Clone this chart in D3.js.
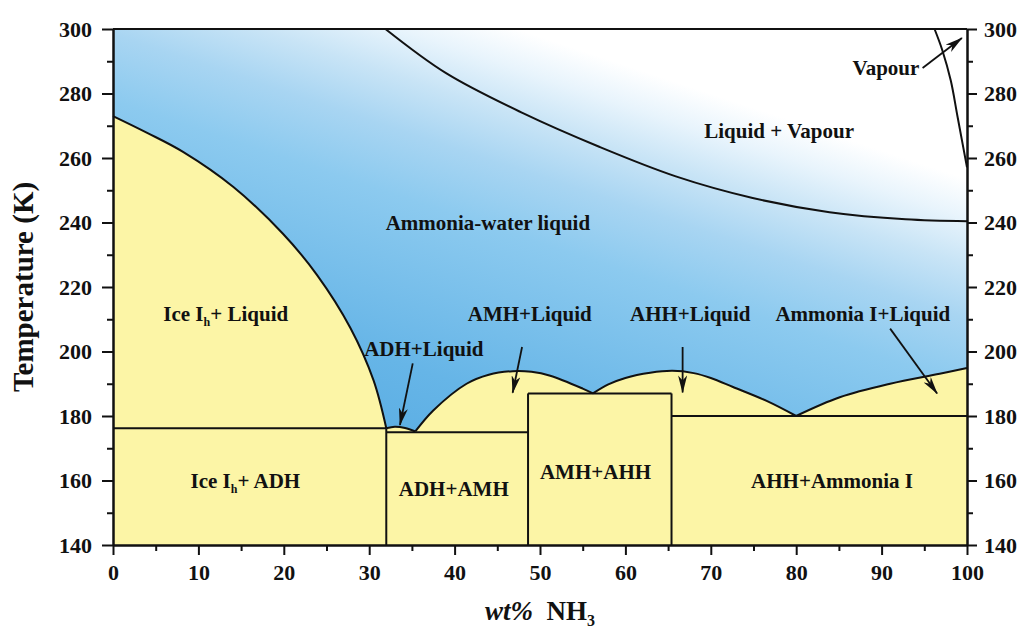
<!DOCTYPE html>
<html>
<head>
<meta charset="utf-8">
<script src="https://cdn.jsdelivr.net/npm/d3@7"></script>
<style>
  body { margin: 0; background: #fff; }
  text { font-family: "Liberation Serif", "Times New Roman", serif; font-weight: bold; fill: #111; }
</style>
</head>
<body>
<div id="chart"></div>
<script>
// liquidus branches, [wt% NH3, T (K)]
var iceLiquidus = [[0,273],[4,267.8],[8.2,261.9],[14.1,251],[19.9,236.5],[23.9,223.7],[27.8,207.3],[30.5,191.1],[32,176.2]];
var adhLiquidus = [[32,176.2],[33,176.7],[34.2,176.3],[35.4,175.2]];
var amhLiquidus = [[35.4,175.2],[37.5,181.7],[41.4,190],[44,192.8],[46.8,193.9],[49,193.7],[51.2,192.5],[55,188.5],[56.2,187]];
var ahhLiquidus = [[56.2,187],[58,189.8],[60,191.8],[62.9,193.4],[65.5,194],[68,193.3],[70,191.8],[72.6,189],[76.6,184.6],[80,180]];
var ammoniaLiquidus = [[80,180],[85.1,185.8],[91,190],[96.8,193.1],[100,194.9]];

// liquid + vapour boundaries
var dewCurve = [[31.9,300],[39,286.3],[48,273.9],[57,263.4],[65.9,254.3],[74.9,247.6],[83.9,243.2],[92.8,241],[100,240.4]];
var vapourCurve = [[96.2,300],[97.1,293.5],[98.1,284],[98.9,272.7],[100,257.1]];

// eutectic horizontals and compound verticals
var eutectics = [
  {x0: 0, x1: 32, t: 176.2},
  {x0: 32, x1: 48.6, t: 175},
  {x0: 48.6, x1: 65.4, t: 187},
  {x0: 65.4, x1: 100, t: 180}
];
var compounds = [
  {x: 32, t: 176.2},
  {x: 48.6, t: 187},
  {x: 65.4, t: 187}
];

// region labels
var labels = [
  {text: "Liquid + Vapour", x: 78, t: 268.6},
  {text: "Ammonia-water liquid", x: 43.9, t: 240.1},
  {text: "Ice I", sub: "h", after: "+ Liquid", x: 13.2, t: 211.8},
  {text: "Ice I", sub: "h", after: "+ ADH", x: 15.5, t: 160},
  {text: "ADH+AMH", x: 39.9, t: 157.5},
  {text: "AMH+AHH", x: 56.5, t: 162.7},
  {text: "AHH+Ammonia I", x: 84.2, t: 160},
  {text: "ADH+Liquid", x: 36.4, t: 200.9},
  {text: "AMH+Liquid", x: 48.8, t: 211.8},
  {text: "AHH+Liquid", x: 67.6, t: 211.8},
  {text: "Ammonia I+Liquid", x: 87.8, t: 211.8},
  {text: "Vapour", x: 90.5, t: 287.9}
];

// arrows from label to region
var arrows = [
  {x1: 35.1, t1: 196.3, x2: 33.6, t2: 177.2},
  {x1: 47.9, t1: 201.4, x2: 46.8, t2: 187.2},
  {x1: 66.7, t1: 201.4, x2: 66.7, t2: 187.3},
  {x1: 91.0, t1: 207.1, x2: 96.5, t2: 187.0},
  {x1: 94.8, t1: 287.9, x2: 99.4, t2: 297.2}
];

var xTicks = d3.range(0, 101, 10);
var xMinor = d3.range(5, 100, 10);
var yTicks = d3.range(140, 301, 20);
var yMinor = d3.range(150, 300, 20);

function init() {
  var w = 1023, h = 630;
  var left = 113, right = 967, top = 29, bottom = 545;

  var xScale = d3.scaleLinear().domain([0, 100]).range([left, right]);
  var yScale = d3.scaleLinear().domain([140, 300]).range([bottom, top]);

  var svg = d3.select("#chart").append("svg")
    .attr("width", w)
    .attr("height", h);

  var defs = svg.append("defs");
  var grad = defs.append("linearGradient")
    .attr("id", "bg")
    .attr("gradientUnits", "userSpaceOnUse")
    .attr("x1", 350).attr("y1", 480)
    .attr("x2", 550).attr("y2", -120);
  [[0, "#55aae2"], [0.2, "#66b5e7"], [0.45, "#8ccaef"], [0.55, "#a8d5f2"],
   [0.63, "#c8e4f6"], [0.7, "#e8f4fc"], [0.76, "#ffffff"], [1, "#ffffff"]].forEach(function(s) {
    grad.append("stop").attr("offset", s[0]).attr("stop-color", s[1]);
  });

  defs.append("marker")
    .attr("id", "head")
    .attr("markerUnits", "userSpaceOnUse")
    .attr("viewBox", "0 0 18 9")
    .attr("refX", 17).attr("refY", 4.5)
    .attr("markerWidth", 18).attr("markerHeight", 9)
    .attr("orient", "auto")
    .append("path")
    .attr("d", "M0,0 L18,4.5 L0,9 L5,4.5 Z")
    .attr("fill", "#111");

  // blue background
  svg.append("rect")
    .attr("x", left).attr("y", top)
    .attr("width", right - left).attr("height", bottom - top)
    .attr("fill", "url(#bg)");

  var line = d3.line()
    .x(function(d) { return xScale(d[0]); })
    .y(function(d) { return yScale(d[1]); })
    .curve(d3.curveCatmullRom.alpha(0.5));

  // yellow solid region below the liquidus
  var branches = [iceLiquidus, adhLiquidus, amhLiquidus, ahhLiquidus, ammoniaLiquidus];
  var areaPath = "M" + xScale(0) + "," + yScale(140);
  branches.forEach(function(b) {
    areaPath += line(b).replace(/^M/, "L");
  });
  areaPath += "L" + xScale(100) + "," + yScale(140) + "Z";
  svg.append("path")
    .attr("d", areaPath)
    .attr("fill", "#fcf5a6");

  branches.concat([dewCurve, vapourCurve]).forEach(function(b) {
    svg.append("path")
      .attr("d", line(b))
      .attr("fill", "none")
      .attr("stroke", "#111")
      .attr("stroke-width", 2);
  });

  svg.selectAll(".eut").data(eutectics).enter().append("line")
    .attr("x1", function(d) { return xScale(d.x0); })
    .attr("x2", function(d) { return xScale(d.x1); })
    .attr("y1", function(d) { return yScale(d.t); })
    .attr("y2", function(d) { return yScale(d.t); })
    .attr("stroke", "#111").attr("stroke-width", 2);

  svg.selectAll(".cmp").data(compounds).enter().append("line")
    .attr("x1", function(d) { return xScale(d.x); })
    .attr("x2", function(d) { return xScale(d.x); })
    .attr("y1", yScale(140))
    .attr("y2", function(d) { return yScale(d.t); })
    .attr("stroke", "#111").attr("stroke-width", 2);

  svg.selectAll(".arrow").data(arrows).enter().append("line")
    .attr("x1", function(d) { return xScale(d.x1); })
    .attr("y1", function(d) { return yScale(d.t1); })
    .attr("x2", function(d) { return xScale(d.x2); })
    .attr("y2", function(d) { return yScale(d.t2); })
    .attr("stroke", "#111").attr("stroke-width", 1.8)
    .attr("marker-end", "url(#head)");

  var lab = svg.selectAll(".lab").data(labels).enter().append("text")
    .attr("x", function(d) { return xScale(d.x); })
    .attr("y", function(d) { return yScale(d.t); })
    .attr("dy", "0.35em")
    .attr("text-anchor", "middle")
    .style("font-size", "21px");
  lab.append("tspan").text(function(d) { return d.text; });
  lab.filter(function(d) { return d.sub; }).append("tspan")
    .attr("dy", 5)
    .style("font-size", "12px")
    .text(function(d) { return d.sub; });
  lab.filter(function(d) { return d.after; }).append("tspan")
    .attr("dy", -5)
    .text(function(d) { return d.after; });

  // axes
  function styleAxis(g) {
    g.selectAll("path.domain").attr("stroke", "#111").attr("stroke-width", 2);
    g.selectAll(".tick line").attr("stroke", "#111").attr("stroke-width", 2);
    g.selectAll("text").style("font-size", "22px").attr("fill", "#111");
  }

  svg.append("g").attr("transform", "translate(0," + bottom + ")")
    .call(d3.axisBottom(xScale).tickValues(xTicks).tickSize(10).tickSizeOuter(0).tickPadding(9).tickFormat(d3.format("d")))
    .call(styleAxis);
  svg.append("g").attr("transform", "translate(0," + bottom + ")")
    .call(d3.axisBottom(xScale).tickValues(xMinor).tickSize(6).tickSizeOuter(0).tickFormat(""))
    .call(styleAxis);

  svg.append("g").attr("transform", "translate(" + left + ",0)")
    .call(d3.axisLeft(yScale).tickValues(yTicks).tickSize(11).tickSizeOuter(0).tickPadding(10))
    .call(styleAxis);
  svg.append("g").attr("transform", "translate(" + left + ",0)")
    .call(d3.axisLeft(yScale).tickValues(yMinor).tickSize(6).tickSizeOuter(0).tickFormat(""))
    .call(styleAxis);

  svg.append("g").attr("transform", "translate(" + right + ",0)")
    .call(d3.axisRight(yScale).tickValues(yTicks).tickSize(10).tickSizeOuter(0).tickPadding(7))
    .call(styleAxis);
  svg.append("g").attr("transform", "translate(" + right + ",0)")
    .call(d3.axisRight(yScale).tickValues(yMinor).tickSize(6).tickSizeOuter(0).tickFormat(""))
    .call(styleAxis);

  // top frame
  svg.append("line")
    .attr("x1", left).attr("x2", right)
    .attr("y1", top).attr("y2", top)
    .attr("stroke", "#111").attr("stroke-width", 2);

  // axis titles
  svg.append("text")
    .attr("transform", "translate(33," + ((top + bottom) / 2) + ") rotate(-90)")
    .attr("text-anchor", "middle")
    .style("font-size", "29px")
    .text("Temperature (K)");

  var xt = svg.append("text")
    .attr("x", 540).attr("y", 620)
    .attr("text-anchor", "middle")
    .style("font-size", "27px");
  xt.append("tspan").style("font-style", "italic").text("wt%");
  xt.append("tspan").text("\u00a0 NH");
  xt.append("tspan").attr("dy", 6).style("font-size", "16px").text("3");
}
window.onload = init;
</script>
</body>
</html>
